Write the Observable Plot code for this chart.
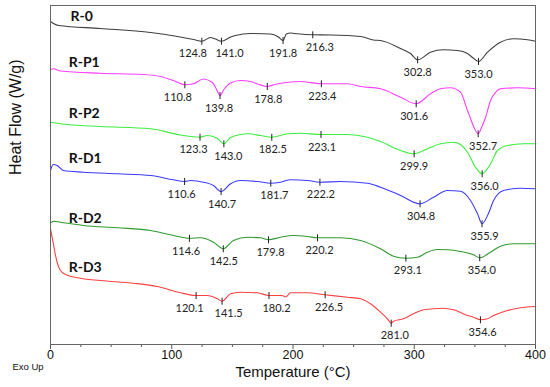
<!DOCTYPE html>
<html><head><meta charset="utf-8">
<script src="https://cdn.jsdelivr.net/npm/d3@7"></script>
<script src="https://cdn.jsdelivr.net/npm/@observablehq/plot@0.6"></script>
<style>body{margin:0;background:#fff} #chart{width:550px;height:387px}</style>
</head><body><div id="chart"></div>
<script>
// Temperature (°C) / heat flow (arbitrary offset units)
const r0 = [[0,32.3],[2.5,32.1],[6.6,31.9],[41.2,31.6],[82.5,31.2],[104.7,30.8],[118,30.5],[124.8,30.33],[132,30.7],[136,30.55],[141.0,30.33],[148.5,30.75],[152.6,30.9],[164.9,31.1],[181.4,31.05],[188,30.75],[191.8,30.4],[194.5,31.05],[197.9,31.15],[203.7,31.07],[216.3,30.97],[230.9,30.95],[255.7,30.8],[266.4,30.45],[272.2,30.4],[288.7,29.6],[296.9,29.1],[302.8,28.47],[313.4,29.23],[324.1,29.47],[335.7,29.4],[343.9,29.1],[348,28.7],[353.0,28.3],[360.4,29.23],[371.1,30.23],[381.9,30.57],[393.4,30.47],[400,30.33]];
const rP1 = [[0,27.5],[2.5,27.57],[8.2,27.35],[41.2,27.13],[76.7,27.0],[90.7,26.8],[101.4,26.4],[110.8,25.97],[117.9,26.07],[126,26.55],[133.5,26.2],[137,25.5],[139.8,24.9],[143,25.5],[148.5,26.15],[156.7,26.4],[165,26.3],[172,26.0],[178.8,25.8],[185,26.0],[197.9,26.25],[206.2,26.3],[223.4,26.07],[244.9,26.07],[255.7,25.8],[272.2,25.57],[288.7,24.73],[301.6,24.07],[313.4,25.07],[321.6,25.57],[329.9,25.67],[338.1,25.23],[343.9,23.4],[346.4,22.6],[348.9,21.8],[352.7,21.07],[355.5,21.7],[358.8,22.7],[362.9,24.4],[367,25.2],[371.1,25.57],[385.2,25.67],[400,25.57]];
const rP2 = [[0,22.23],[14,22.0],[41.2,21.8],[82.5,21.57],[107.2,20.95],[123.3,20.73],[129.5,20.9],[137.7,20.6],[143.0,20.07],[148.5,20.7],[156.7,21.0],[162.5,21.07],[173.2,20.9],[182.5,20.73],[195.5,21.07],[206.2,21.13],[223.1,21.0],[244.9,21.0],[261.4,20.73],[272.2,20.3],[288.7,19.4],[299.9,19.07],[310.9,19.57],[321.6,20.07],[332.4,20.23],[338.1,20.0],[343.9,19.23],[350.5,17.73],[356.0,17.07],[362.9,18.07],[368.7,19.4],[376.9,19.9],[390.1,20.07],[400,20.07]];
const rD1 = [[0,17.4],[2.2,18.0],[5.5,17.9],[10.7,17.4],[27.2,17.23],[55.3,17.07],[82.5,16.9],[101.4,16.47],[110.6,16.3],[115.5,16.4],[126.2,16.23],[134.4,15.9],[140.7,15.3],[148.5,16.07],[156.7,16.4],[170.7,16.3],[181.7,16.13],[189.7,16.23],[197.9,16.47],[212,16.4],[222.2,16.23],[239.2,16.3],[261.4,16.13],[272.2,15.73],[288.7,14.9],[304.8,14.07],[315.9,14.73],[327.4,15.4],[338.1,15.33],[346.4,14.4],[352.2,13.07],[355.9,12.07],[361.2,13.1],[365.4,14.4],[373.6,15.4],[387.6,15.63],[400,15.57]];
const rD2 = [[0,12.13],[2.5,12.33],[8.2,12.23],[27.2,11.9],[55.3,11.67],[82.5,11.4],[101.4,10.9],[114.6,10.62],[123.7,10.67],[134.4,10.23],[142.5,9.57],[150.9,10.4],[162.5,10.73],[173.2,10.67],[179.8,10.47],[189.7,10.73],[200.4,10.9],[212,10.8],[220.2,10.67],[239.2,10.67],[255.7,10.4],[272.2,9.57],[282.9,8.83],[293.1,8.63],[302.7,8.73],[310.9,9.23],[319.2,9.5],[327.4,9.47],[338.1,9.3],[348.9,8.97],[354.0,8.67],[362.9,9.23],[371.1,9.83],[381.9,10.07],[400,10.07]];
const rD3 = [[0,11.57],[2,10.3],[4,9.0],[5.5,8.2],[8.2,7.4],[12.4,7.0],[22.3,6.67],[41.2,6.4],[68.5,6.13],[88.2,5.8],[107.2,5.17],[120.1,4.9],[129.5,4.9],[137.7,4.57],[141.5,4.33],[148.5,5.07],[156.7,5.23],[170.7,5.17],[180.2,4.9],[191,4.9],[194,4.75],[197.9,5.17],[212,5.17],[226.5,4.97],[244.9,4.73],[255.7,4.57],[263.9,4.07],[272.2,3.23],[277.9,2.57],[281.0,2.13],[282.9,2.33],[291.1,2.57],[299.4,3.07],[307.6,3.47],[324.1,3.63],[332.4,3.47],[343.9,2.9],[348.9,2.73],[354.6,2.47],[360.4,2.57],[365.4,2.9],[376.9,3.4],[387.6,3.67],[400,3.8]];

// Peak temperatures (°C)
const r0Peaks  = [124.8, 141.0, 191.8, 216.3, 302.8, 353.0];
const rP1Peaks = [110.8, 139.8, 178.8, 223.4, 301.6, 352.7];
const rP2Peaks = [123.3, 143.0, 182.5, 223.1, 299.9, 356.0];
const rD1Peaks = [110.6, 140.7, 181.7, 222.2, 304.8, 355.9];
const rD2Peaks = [114.6, 142.5, 179.8, 220.2, 293.1, 354.0];
const rD3Peaks = [120.1, 141.5, 180.2, 226.5, 281.0, 354.6];

const names  = ["R-0", "R-P1", "R-P2", "R-D1", "R-D2", "R-D3"];
const colors = ["#3f3f3f", "#ff3dff", "#3ded3d", "#3c3cff", "#2f9a2f", "#ff4040"];
const nameT  = [16.5, 15, 15, 15, 15, 15];
const nameV  = [32.8, 28.2, 23.1, 18.6, 12.6, 7.7];

const majorTicks = [0, 100, 200, 300, 400];
const minorTicks = d3.range(0, 401, 25).filter(d => d % 100 !== 0);

// horizontal label nudges (px), styling only
const labelNudge = [
  [-9, 8, 0, 7, 0, 0],
  [-7, -1, 1, 1, -2, 5],
  [-6.5, 4.5, 1, 1, 0, 2.5],
  [-3, 1, 3.5, 1, 1, 2.5],
  [-3.5, 0.5, 2, 2, 2, 2],
  [-6.5, 6.5, 7.5, 4, 3.5, 2]
];

const curves = [r0, rP1, rP2, rD1, rD2, rD3];
const peaks  = [r0Peaks, rP1Peaks, rP2Peaks, rD1Peaks, rD2Peaks, rD3Peaks];

function valueAt(pts, t) {
  for (let i = 1; i < pts.length; i++) {
    const [t0, v0] = pts[i - 1], [t1, v1] = pts[i];
    if (t >= t0 && t <= t1) return v0 + (v1 - v0) * (t - t0) / (t1 - t0);
  }
  return pts[pts.length - 1][1];
}

const lineData = curves.flatMap((pts, i) => pts.map(([t, v]) => ({name: names[i], t, v})));
const peakData = peaks.flatMap((ps, i) => ps.map((t, j) => ({name: names[i], t, v: valueAt(curves[i], t), label: t.toFixed(1), dx: labelNudge[i][j]})));
const nameData = names.map((n, i) => ({name: n, t: nameT[i], v: nameV[i]}));

const vtick = {draw(ctx) { ctx.moveTo(0, -3.5); ctx.lineTo(0, 3.5); }};

const chart = Plot.plot({
  width: 550, height: 387,
  marginTop: 5, marginRight: 15, marginBottom: 43, marginLeft: 50,
  style: {fontFamily: "'Liberation Sans', Arial, sans-serif", background: "#fff", color: "#111"},
  x: {domain: [0, 400]},
  y: {domain: [0, 33.9], axis: null},
  color: {domain: names, range: colors},
  marks: [
    Plot.line(lineData, {x: "t", y: "v", z: "name", stroke: "name", strokeWidth: 1.1, curve: "monotone-x"}),
    Plot.dot(peakData, {x: "t", y: "v", symbol: vtick, r: 3, stroke: "#222", fill: "none", strokeWidth: 1}),
    ...peakData.map(d => Plot.text([d], {x: "t", y: "v", text: "label", dy: 12.7, dx: d.dx, fontSize: 11, fontFamily: "Lato", fill: "#222"})),
    Plot.text(nameData, {x: "t", y: "v", text: "name", textAnchor: "start", fontWeight: "bold", fontSize: 14, fontFamily: "Lato", fill: "#111"}),
    Plot.axisX({ticks: majorTicks, tickSize: 5, tickPadding: 1, fontSize: 12.5, label: null, tickFormat: d => d, stroke: "#555"}),
    Plot.axisX({ticks: minorTicks, tickSize: 3, tickFormat: () => "", label: null, stroke: "#555"}),
    Plot.frame({stroke: "#666"}),
    Plot.text(["Temperature (°C)"], {text: d => d, frameAnchor: "bottom", dy: 32.5, fontSize: 15}),
    Plot.text(["Heat Flow (W/g)"], {text: d => d, frameAnchor: "left", rotate: -90, dx: -35, fontSize: 16}),
    Plot.text(["Exo Up"], {text: d => d, frameAnchor: "bottom-left", textAnchor: "start", dx: -38, dy: 25, fontSize: 9.5})
  ]
});
document.getElementById("chart").appendChild(chart);
</script>
</body></html>
